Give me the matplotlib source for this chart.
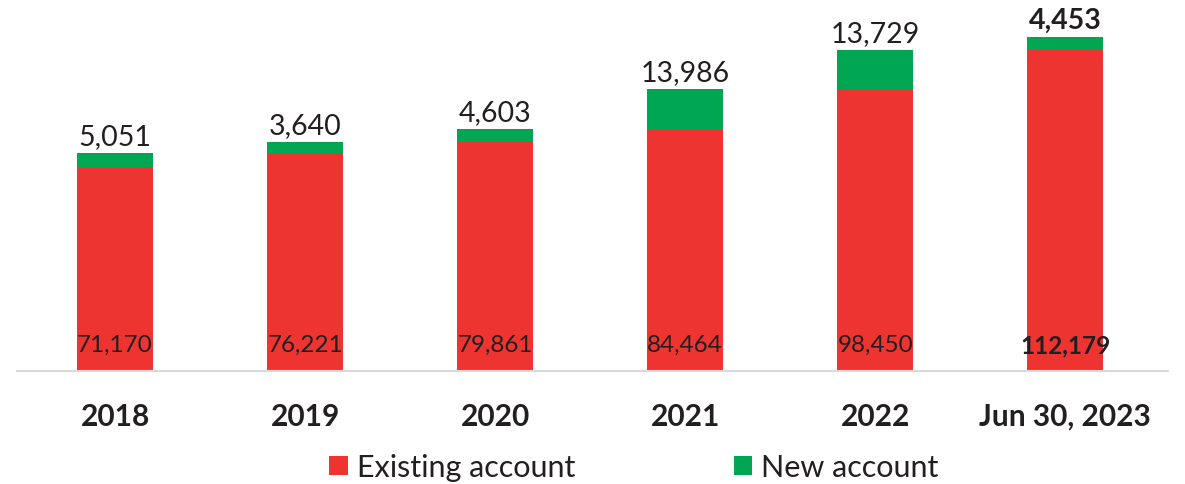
import matplotlib.pyplot as plt
import numpy as np

plt.rcParams['font.family'] = ['Lato', 'DejaVu Sans']

categories = ["2018", "2019", "2020", "2021", "2022", "Jun 30, 2023"]
existing = [71170, 76221, 79861, 84464, 98450, 112179]
new = [5051, 3640, 4603, 13986, 13729, 4453]

red = "#EE3431"
green = "#00A651"
txt = "#231F20"

fig = plt.figure(figsize=(11.85, 4.85), dpi=100)
ax = fig.add_axes([17 / 1185, 113 / 485, (1168 - 17) / 1185, 372 / 485])

x = np.arange(len(categories))
b1 = ax.bar(x, existing, width=0.4, color=red, label="Existing account")
b2 = ax.bar(x, new, width=0.4, bottom=existing, color=green, label="New account")

last = len(categories) - 1
for i in x:
    w = "bold" if i == last else "normal"
    ax.annotate(f"{existing[i]:,}", xy=(i, 0), xytext=(0, 19), textcoords="offset points",
                ha="center", va="center", fontsize=17.5, color=txt, fontweight=w)
    ax.annotate(f"{new[i]:,}", xy=(i, existing[i] + new[i]), xytext=(0, 3), textcoords="offset points",
                ha="center", va="bottom", fontsize=20.5, color=txt, fontweight=w)

ax.set_xlim(-0.516, 5.54)
ax.set_ylim(0, 130000)
ax.set_xticks(x)
ax.set_xticklabels(categories, fontsize=21.5, fontweight="bold", color=txt)
ax.tick_params(axis="x", length=0, pad=22)
ax.set_yticks([])
for s in ["top", "left", "right"]:
    ax.spines[s].set_visible(False)
ax.spines["bottom"].set_color("#D9D9D9")
ax.spines["bottom"].set_linewidth(1.5)

fig.legend(handles=[b1, b2], loc="center", bbox_to_anchor=(634 / 1185, 17 / 485),
           ncol=2, frameon=False, fontsize=22, handlelength=0.6, handleheight=0.6,
           handletextpad=0.3, columnspacing=5.2, labelcolor=txt, borderpad=0)

fig.savefig("out.png", dpi=100)
